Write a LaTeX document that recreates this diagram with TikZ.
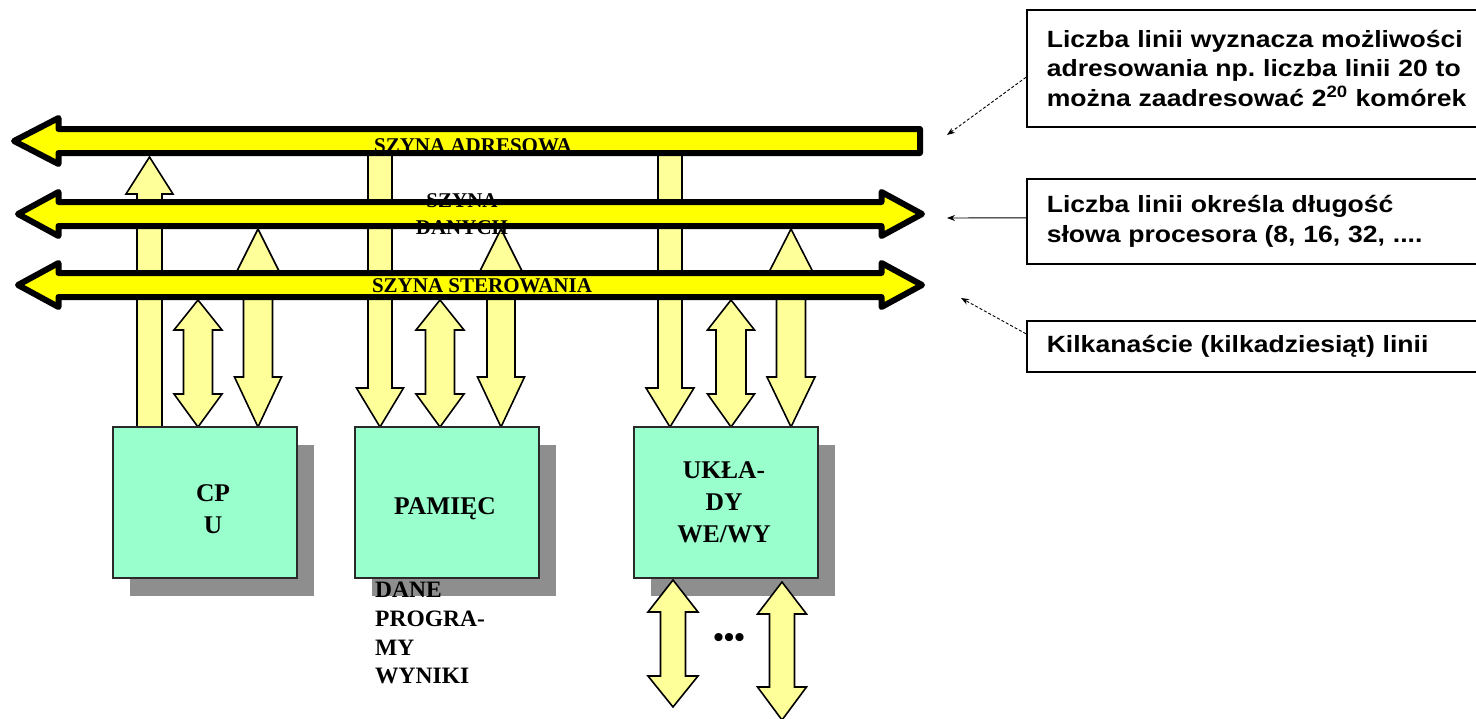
\documentclass[tikz,border=0pt]{standalone}
\usepackage{fontspec}
\setmainfont{Liberation Serif}
\newfontfamily\notefont[FakeStretch=1.13]{Liberation Sans}
\usetikzlibrary{arrows.meta,shadows}
\frenchspacing

\definecolor{busyellow}{HTML}{FFFF00}
\definecolor{linkyellow}{HTML}{FFFF99}
\definecolor{unitgreen}{HTML}{99FFCC}
\definecolor{shadowgray}{HTML}{8E8E8E}
\definecolor{edgegray}{HTML}{2A2A2A}

% block arrow pointing up: centre x, tip y, base y, half shaft, half head, head length
\newcommand\linkup[6]{%
  \draw[link] (#1,#2) -- ({#1+#5},{#2+#6}) -- ({#1+#4},{#2+#6}) -- ({#1+#4},#3)
    -- ({#1-#4},#3) -- ({#1-#4},{#2+#6}) -- ({#1-#5},{#2+#6}) -- cycle;}
% block arrow pointing down: centre x, top y, tip y, half shaft, half head, head length
\newcommand\linkdown[6]{%
  \draw[link] ({#1-#4},#2) -- ({#1+#4},#2) -- ({#1+#4},{#3-#6}) -- ({#1+#5},{#3-#6})
    -- (#1,#3) -- ({#1-#5},{#3-#6}) -- ({#1-#4},{#3-#6}) -- cycle;}
% two-headed block arrow: centre x, top tip, bottom tip, half shaft, half head, top head, bottom head
\newcommand\linkboth[7]{%
  \draw[link] (#1,#2) -- ({#1+#5},{#2+#6}) -- ({#1+#4},{#2+#6}) -- ({#1+#4},{#3-#7})
    -- ({#1+#5},{#3-#7}) -- (#1,#3) -- ({#1-#5},{#3-#7}) -- ({#1-#4},{#3-#7})
    -- ({#1-#4},{#2+#6}) -- ({#1-#5},{#2+#6}) -- cycle;}

\tikzset{
  link/.style={draw=black, line width=1.6pt, fill=linkyellow, line join=miter},
  bus/.style={draw=black, line width=6pt, fill=busyellow, line join=round},
  buslabel/.style={font=\bfseries\fontsize{21}{27}\selectfont, inner sep=0pt, align=center},
  unit/.style={draw=edgegray, line width=1.5pt, fill=unitgreen, minimum width=184pt,
    minimum height=151pt, inner sep=0pt,
    drop shadow={shadow xshift=17pt, shadow yshift=-18pt, fill=shadowgray, opacity=1}},
  unitlabel/.style={font=\bfseries\fontsize{25.5}{32}\selectfont, inner sep=0pt, align=center},
  memlabel/.style={font=\bfseries\fontsize{23.5}{28.7}\selectfont, inner sep=0pt, align=left},
  note/.style={draw=black, line width=1.6pt, fill=white, anchor=north west, inner xsep=20pt,
    inner ysep=0pt, text width=440pt, align=left,
    font=\notefont\bfseries\fontsize{23.5}{29.5}\selectfont},
  pointer/.style={draw=black, line width=0.9pt, -{Stealth[length=8pt,width=6pt]}},
}

\begin{document}
\begin{tikzpicture}[x=1pt,y=-1pt]
\useasboundingbox[fill=white] (0,0) rectangle (1476,718);

% links between units and buses (drawn first, the buses lie on top)
\linkup{149.5}{157}{427}{12.5}{23.5}{37}
\linkboth{198}{300}{427}{14.5}{24}{30}{33}
\linkboth{258}{229}{427}{14.5}{23.5}{47}{50}
\linkdown{380}{150}{427}{12}{23.5}{39}
\linkboth{440}{300}{427}{14.5}{24}{30}{33}
\linkboth{501}{229}{427}{14}{23.5}{47}{50}
\linkdown{670}{150}{427}{12}{24}{39}
\linkboth{731}{300}{427}{15}{23.5}{30}{33}
\linkboth{791}{229}{427}{14.5}{24}{47}{50}

% the three buses
\draw[bus] (14,141) -- (58.5,118) -- (58.5,129) -- (920,129) -- (920,153)
  -- (58.5,153) -- (58.5,164) -- cycle;
\draw[bus] (18,214) -- (58.5,192) -- (58.5,202) -- (881.5,202) -- (881.5,192)
  -- (922,214) -- (881.5,236) -- (881.5,226) -- (58.5,226) -- (58.5,236) -- cycle;
\draw[bus] (18,285) -- (58.5,263) -- (58.5,273) -- (881.5,273) -- (881.5,263)
  -- (922,285) -- (881.5,307) -- (881.5,297) -- (58.5,297) -- (58.5,307) -- cycle;

\node[buslabel] (adrlabel) at (473,146) {SZYNA ADRESOWA};
\node[buslabel] (datlabel) at (462,214) {SZYNA\\DANYCH};
\node[buslabel] (ctllabel) at (482,286) {SZYNA STEROWANIA};

% functional units
\node[unit] (cpu) at (205,502.5) {};
\node[unit] (mem) at (447,502.5) {};
\node[unit] (io)  at (726,502.5) {};
\node[unitlabel] (cputext) at (213,509) {CP\\U};
\node[unitlabel] (memtext) at (445,509) {PAMIĘC};
\node[unitlabel] (iotext)  at (724,502) {UKŁA-\\DY\\WE/WY};

\node[memlabel, anchor=north west] (memcontent) at (375,582) {DANE\\PROGRA-\\MY\\WYNIKI};

% peripheral links of the I/O unit
\linkboth{673}{580}{707}{12.5}{25}{32}{31}
\linkboth{782}{582}{720}{12.5}{24.5}{32}{33}
\node[font=\bfseries\fontsize{30}{30}\selectfont, inner sep=0pt] (more) at (729,640) {•••};

% explanatory notes
\node[note, minimum width=470pt, minimum height=117pt] (n1) at (1026,9)
  {Liczba linii wyznacza możliwości\\adresowania np. liczba linii 20 to\\można zaadresować 2\textsuperscript{20} komórek};
\node[note, minimum width=470pt, minimum height=85pt] (n2) at (1026,178)
  {Liczba linii określa długość\\słowa procesora (8, 16, 32, ....};
\node[note, minimum width=470pt, minimum height=51pt] (n3) at (1026,320)
  {Kilkanaście (kilkadziesiąt) linii};

\coordinate (adrtip) at (947,135);
\coordinate (dattip) at (947,218);
\coordinate (ctltip) at (961,298);
\draw[pointer, densely dashed] ([yshift=-9pt]n1.west) -- (adrtip);
\draw[pointer] ([yshift=3.5pt]n2.west) -- (dattip);
\draw[pointer, densely dashed] ([yshift=12.5pt]n3.west) -- (ctltip);
\end{tikzpicture}
\end{document}
